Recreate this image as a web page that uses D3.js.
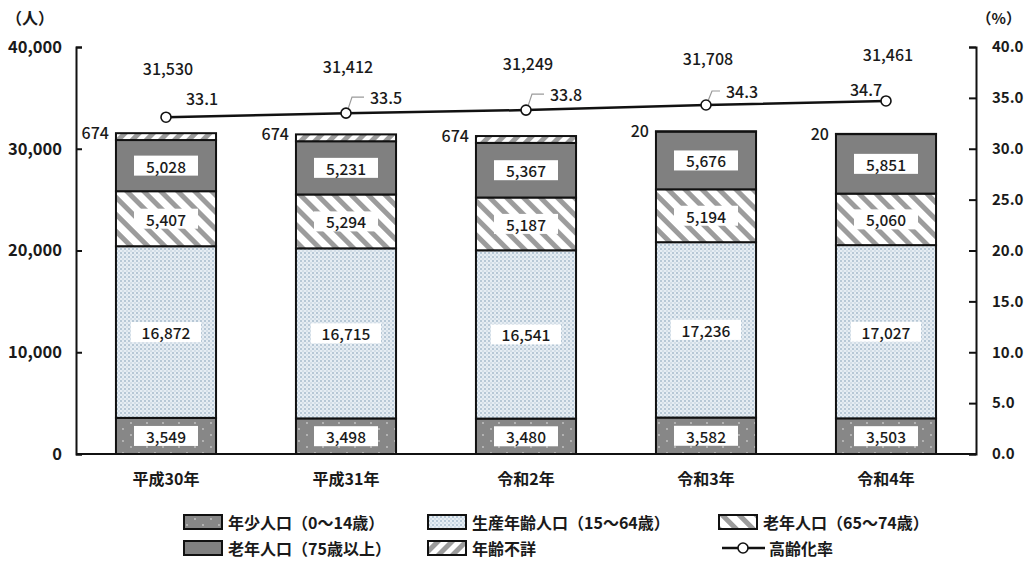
<!DOCTYPE html>
<html>
<head>
<meta charset="utf-8">
<script src="https://cdn.jsdelivr.net/npm/d3@7"></script>
<style>
  body { margin: 0; background: #ffffff; }
  text { font-family: "Noto Sans CJK JP", "Noto Sans", sans-serif; fill: #1a1a1a; }
</style>
</head>
<body>
<svg id="chart" width="1024" height="567"></svg>
<script>
// 年齢区分別人口の推移
const years = ["平成30年", "平成31年", "令和2年", "令和3年", "令和4年"];
const youth = [3549, 3498, 3480, 3582, 3503];          // 年少人口（0～14歳）
const working = [16872, 16715, 16541, 17236, 17027];   // 生産年齢人口（15～64歳）
const elderly65 = [5407, 5294, 5187, 5194, 5060];      // 老年人口（65～74歳）
const elderly75 = [5028, 5231, 5367, 5676, 5851];      // 老年人口（75歳以上）
const unknownAge = [674, 674, 674, 20, 20];            // 年齢不詳
const totals = [31530, 31412, 31249, 31708, 31461];
const agingRate = [33.1, 33.5, 33.8, 34.3, 34.7];      // 高齢化率（%）
const leftTicks = [0, 10000, 20000, 30000, 40000];
const rightTicks = [0, 5, 10, 15, 20, 25, 30, 35, 40];

const keys = ["youth", "working", "elderly65", "elderly75", "unknownAge"];
const seriesValues = { youth, working, elderly65, elderly75, unknownAge };
const seriesNames = {
  youth: "年少人口（0～14歳）",
  working: "生産年齢人口（15～64歳）",
  elderly65: "老年人口（65～74歳）",
  elderly75: "老年人口（75歳以上）",
  unknownAge: "年齢不詳"
};
const rateName = "高齢化率";

const rows = years.map((yr, i) => {
  const r = { year: yr };
  keys.forEach(k => r[k] = seriesValues[k][i]);
  return r;
});

const svg = d3.select("#chart");
const plot = { left: 76, right: 976, top: 47, bottom: 454 };

const x = d3.scaleBand().domain(years).range([plot.left, plot.right])
  .paddingInner(0.444).paddingOuter(0.222);
const y = d3.scaleLinear().domain([0, 40000]).range([plot.bottom, plot.top]);
const yR = d3.scaleLinear().domain([0, 40]).range([plot.bottom, plot.top]);

// ---- fill patterns ----
const defs = svg.append("defs");

const pYouth = defs.append("pattern").attr("id", "p-youth")
  .attr("patternUnits", "userSpaceOnUse").attr("width", 16).attr("height", 12);
pYouth.append("rect").attr("width", 16).attr("height", 12).attr("fill", "#878787");
pYouth.append("circle").attr("cx", 3).attr("cy", 3).attr("r", 0.9).attr("fill", "#c8c8c8");
pYouth.append("circle").attr("cx", 11).attr("cy", 9).attr("r", 0.9).attr("fill", "#c8c8c8");

const pWork = defs.append("pattern").attr("id", "p-working")
  .attr("patternUnits", "userSpaceOnUse").attr("width", 4).attr("height", 4);
pWork.append("rect").attr("width", 4).attr("height", 4).attr("fill", "#e6edf3");
pWork.append("circle").attr("cx", 1).attr("cy", 1).attr("r", 1).attr("fill", "#a7bccd");
pWork.append("circle").attr("cx", 3).attr("cy", 3).attr("r", 0.8).attr("fill", "#bccbd8");

const pE65 = defs.append("pattern").attr("id", "p-elderly65")
  .attr("patternUnits", "userSpaceOnUse").attr("width", 12).attr("height", 12)
  .attr("patternTransform", "rotate(-45)");
pE65.append("rect").attr("width", 12).attr("height", 12).attr("fill", "#ffffff");
pE65.append("rect").attr("x", 0).attr("width", 5).attr("height", 12).attr("fill", "#9c9c9c");

const pUnk = defs.append("pattern").attr("id", "p-unknown")
  .attr("patternUnits", "userSpaceOnUse").attr("width", 10).attr("height", 10)
  .attr("patternTransform", "rotate(45)");
pUnk.append("rect").attr("width", 10).attr("height", 10).attr("fill", "#ffffff");
pUnk.append("rect").attr("x", 0).attr("width", 5).attr("height", 10).attr("fill", "#9c9c9c");

const fills = {
  youth: "url(#p-youth)",
  working: "url(#p-working)",
  elderly65: "url(#p-elderly65)",
  elderly75: "#808080",
  unknownAge: "url(#p-unknown)"
};

// ---- stacked bars ----
const stacked = d3.stack().keys(keys)(rows);

const layers = svg.append("g").selectAll("g").data(stacked).join("g")
  .attr("fill", d => fills[d.key]);
layers.selectAll("rect").data(d => d).join("rect")
  .attr("x", d => x(d.data.year))
  .attr("width", x.bandwidth())
  .attr("y", d => y(d[1]))
  .attr("height", d => y(d[0]) - y(d[1]))
  .attr("stroke", "#111")
  .attr("stroke-width", 2);

// value labels inside segments (white boxes)
const fmt = d3.format(",");
const labelG = svg.append("g");
stacked.filter(s => s.key !== "unknownAge").forEach(s => {
  s.forEach(d => {
    const cx = x(d.data.year) + x.bandwidth() / 2;
    const cy = (y(d[0]) + y(d[1])) / 2;
    const txt = fmt(d[1] - d[0]);
    const w = txt.length > 5 ? 70 : 64;
    labelG.append("rect")
      .attr("x", cx - w / 2).attr("y", cy - 10)
      .attr("width", w).attr("height", 20)
      .attr("fill", "#ffffff");
    labelG.append("text")
      .attr("x", cx).attr("y", cy)
      .attr("text-anchor", "middle")
      .attr("dominant-baseline", "central")
      .attr("font-size", 15.5)
      .attr("font-weight", 500)
      .text(txt);
  });
});

// 年齢不詳 labels beside bar tops
const unk = stacked.find(s => s.key === "unknownAge");
unk.forEach(d => {
  svg.append("text")
    .attr("x", x(d.data.year) - 7)
    .attr("y", y(d[1]) - 1)
    .attr("text-anchor", "end")
    .attr("dominant-baseline", "central")
    .attr("font-size", 16)
    .attr("font-weight", 500)
    .text(fmt(d[1] - d[0]));
});

// ---- axes ----
const axisL = d3.axisLeft(y).tickValues(leftTicks).tickFormat(d3.format(",")).tickSize(-6).tickPadding(14);
const gL = svg.append("g").attr("transform", `translate(${plot.left},0)`).call(axisL);
gL.selectAll("text").attr("font-size", 16.5);

const axisR = d3.axisRight(yR).tickValues(rightTicks).tickFormat(d3.format(".1f")).tickSize(-7).tickPadding(16);
const gR = svg.append("g").attr("transform", `translate(${plot.right},0)`).call(axisR);
gR.selectAll("text").attr("font-size", 15);

[gL, gR].forEach(g => {
  g.select(".domain").attr("stroke", "#111").attr("stroke-width", 2);
  g.selectAll(".tick line").attr("stroke", "#111").attr("stroke-width", 2);
  g.selectAll("text")
    .attr("font-weight", 600).attr("fill", "#1a1a1a")
    .style("font-family", "\"Noto Sans CJK JP\", sans-serif");
});

// baseline
svg.append("line")
  .attr("x1", plot.left).attr("x2", plot.right)
  .attr("y1", y(0)).attr("y2", y(0))
  .attr("stroke", "#111").attr("stroke-width", 2);

// category labels
svg.append("g").selectAll("text").data(years).join("text")
  .attr("x", d => x(d) + x.bandwidth() / 2)
  .attr("y", 478)
  .attr("text-anchor", "middle")
  .attr("dominant-baseline", "central")
  .attr("font-size", 16)
  .attr("font-weight", 600)
  .text(d => d);

// unit labels
svg.append("text").attr("x", 6).attr("y", 17).attr("dominant-baseline", "central")
  .attr("font-size", 16).attr("font-weight", 600).text("（人）");
svg.append("text").attr("x", 1021).attr("y", 17).attr("text-anchor", "end").attr("dominant-baseline", "central")
  .attr("font-size", 15).attr("font-weight", 600).text("（%）");

// ---- aging rate line ----
const cxOf = i => x(years[i]) + x.bandwidth() / 2;
const line = d3.line().x((d, i) => cxOf(i)).y(d => yR(d));
svg.append("path").datum(agingRate)
  .attr("d", line).attr("fill", "none")
  .attr("stroke", "#111").attr("stroke-width", 2.5);

// leader lines and rate labels
const rateLabelOffset = [[20, -19, false], [24, -16, true], [24, -16, true], [20, -14, true], [-36, -12, false]];
agingRate.forEach((v, i) => {
  const px = cxOf(i), py = yR(v);
  const [dx, dy, leader] = rateLabelOffset[i];
  if (leader) {
    svg.append("path")
      .attr("d", `M${px + 2},${py - 4} L${px + 6},${py + dy} L${px + dx - 6},${py + dy}`)
      .attr("fill", "none").attr("stroke", "#9a9a9a").attr("stroke-width", 1.2);
  }
  svg.append("text")
    .attr("x", px + dx).attr("y", py + dy)
    .attr("dominant-baseline", "central")
    .attr("font-size", 16)
    .attr("font-weight", 500)
    .text(v.toFixed(1));
});

svg.append("g").selectAll("circle").data(agingRate).join("circle")
  .attr("cx", (d, i) => cxOf(i)).attr("cy", d => yR(d))
  .attr("r", 5).attr("fill", "#fff").attr("stroke", "#111").attr("stroke-width", 1.6);

// totals above each bar
svg.append("g").selectAll("text").data(totals).join("text")
  .attr("x", (d, i) => cxOf(i) + 2)
  .attr("y", (d, i) => Math.min(68, yR(agingRate[i]) - 47))
  .attr("text-anchor", "middle")
  .attr("dominant-baseline", "central")
  .attr("font-size", 16)
  .attr("font-weight", 500)
  .text(d => fmt(d));

// ---- legend ----
const legendItems = [
  { key: "youth", x: 184, y: 522 },
  { key: "working", x: 428, y: 522 },
  { key: "elderly65", x: 719, y: 522 },
  { key: "elderly75", x: 184, y: 548 },
  { key: "unknownAge", x: 428, y: 548 }
];
const lg = svg.append("g");
legendItems.forEach(it => {
  lg.append("rect").attr("x", it.x).attr("y", it.y - 7)
    .attr("width", 38).attr("height", 14)
    .attr("fill", fills[it.key]).attr("stroke", "#111").attr("stroke-width", 2);
  lg.append("text").attr("x", it.x + 44).attr("y", it.y)
    .attr("dominant-baseline", "central").attr("font-size", 16).attr("font-weight", 600)
    .text(seriesNames[it.key]);
});
lg.append("line").attr("x1", 722).attr("x2", 765).attr("y1", 548).attr("y2", 548)
  .attr("stroke", "#111").attr("stroke-width", 2.5);
lg.append("circle").attr("cx", 743).attr("cy", 548).attr("r", 5)
  .attr("fill", "#fff").attr("stroke", "#111").attr("stroke-width", 1.6);
lg.append("text").attr("x", 769).attr("y", 548)
  .attr("dominant-baseline", "central").attr("font-size", 16).attr("font-weight", 600)
  .text(rateName);
</script>
</body>
</html>
